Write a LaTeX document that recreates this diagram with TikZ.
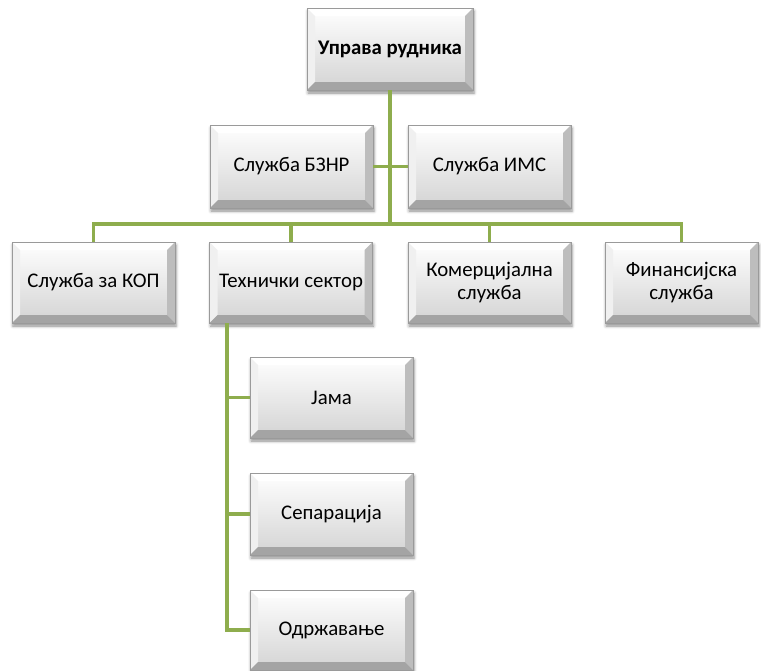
\documentclass[tikz,border=0pt]{standalone}
\usepackage{fontspec}
\setmainfont{Carlito}
\usetikzlibrary{shadows.blur,calc}
\definecolor{conngreen}{HTML}{8EAD4D}
\definecolor{faceB}{HTML}{D3D3D3}
\definecolor{facetR}{HTML}{BDBDBD}
\definecolor{facetB}{HTML}{A4A4A4}
\definecolor{facetL}{HTML}{F0F0F0}
\definecolor{boxline}{HTML}{9A9A9A}
\tikzset{
  conn/.style={draw=conngreen, line width=3.5pt},
  bevelbox/.style={
    rectangle, minimum width=163pt, minimum height=81pt, inner sep=2pt,
    align=center, font=\fontsize{20.8}{23}\selectfont,
    top color=white, bottom color=faceB, draw=boxline, line width=0.5pt,
    blur shadow={shadow xshift=1pt, shadow yshift=-3pt, shadow blur radius=3pt, shadow opacity=45},
    path picture={
      \path (path picture bounding box.south west) coordinate (SW)
            (path picture bounding box.north east) coordinate (NE)
            (path picture bounding box.north west) coordinate (NW)
            (path picture bounding box.south east) coordinate (SE);
      \fill[white] (NW) -- (NE) -- ([shift={(-8pt,-8pt)}]NE) -- ([shift={(8pt,-8pt)}]NW) -- cycle;
      \fill[facetL] (NW) -- ([shift={(8pt,-8pt)}]NW) -- ([shift={(8pt,8pt)}]SW) -- (SW) -- cycle;
      \fill[facetR] (NE) -- ([shift={(-8pt,-8pt)}]NE) -- ([shift={(-8pt,8pt)}]SE) -- (SE) -- cycle;
      \fill[facetB] (SW) -- ([shift={(8pt,8pt)}]SW) -- ([shift={(-8pt,8pt)}]SE) -- (SE) -- cycle;
    }}
}
\begin{document}
\begin{tikzpicture}[x=1pt, y=-1pt]
\useasboundingbox (0,0) rectangle (761,670);
\coordinate (bus) at (390,224);
\coordinate (tsp) at (227,323);
% nodes
\node[bevelbox, minimum width=166pt, minimum height=82pt, font=\fontsize{20.8}{23}\selectfont\bfseries] (top) at (390,49) {Управа рудника};
\node[bevelbox, minimum height=83pt] (bznr) at (291.5,166.5) {Служба БЗНР};
\node[bevelbox, minimum height=83pt] (ims) at (489.5,166.5) {Служба ИМС};
\node[bevelbox] (kop) at (93.5,282.5) {Служба за КОП};
\node[bevelbox] (tech) at (291,282.5) {Технички сектор};
\node[bevelbox] (com) at (489.5,282.5) {Комерцијална\\служба};
\node[bevelbox, minimum width=153pt] (fin) at (681.5,282.5) {Финансијска\\служба};
\node[bevelbox] (jama) at (331.5,397.5) {Јама};
\node[bevelbox, minimum height=82pt] (sep) at (331.5,514) {Сепарација};
\node[bevelbox, minimum height=80pt] (odr) at (331.5,630) {Одржавање};
% connectors
\draw[conn] (top.south) -- (bus);
\draw[conn] (kop.north) |- (bus) -| (fin.north);
\draw[conn] (tech.north) -- (tech.north |- bus);
\draw[conn] (com.north) -- (com.north |- bus);
\draw[conn] (bznr.east) -- (bznr.east -| bus);
\draw[conn] (ims.west) -- (ims.west -| bus);
\draw[conn] (tsp) |- (odr.west);
\draw[conn] (jama.west) -- (jama.west -| tsp);
\draw[conn] (sep.west) -- (sep.west -| tsp);
\end{tikzpicture}
\end{document}
